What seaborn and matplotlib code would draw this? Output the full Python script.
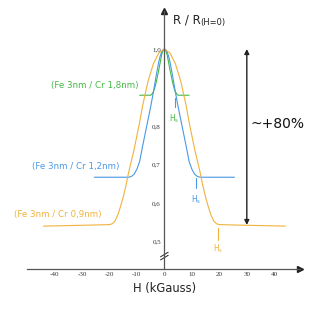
import matplotlib
matplotlib.use("Agg")
import matplotlib.pyplot as plt
import seaborn as sns
import pandas as pd

# ---- data ----
green_H = [0, 0.5, 1, 1.5, 2, 2.5, 3, 3.5, 4, 4.5, 5, 9]
green_R = [1.0, 0.996, 0.985, 0.966, 0.947, 0.93, 0.913, 0.899, 0.889, 0.883, 0.88, 0.88]

blue_H = [0, 0.5, 1, 1.5, 2, 3, 4, 5, 6, 7, 8, 9, 10, 11, 12, 13, 25.5]
blue_R = [1.0, 0.998, 0.992, 0.982, 0.968, 0.93, 0.888, 0.85, 0.815, 0.78, 0.745, 0.708,
          0.688, 0.675, 0.669, 0.667, 0.667]

orange_H = [0, 2, 4, 6, 8, 9, 10, 11, 12, 13, 14, 15, 16, 17, 18, 19, 20, 25, 44]
orange_R = [1.0, 0.99, 0.962, 0.915, 0.85, 0.81, 0.775, 0.74, 0.71, 0.68, 0.645, 0.615,
            0.59, 0.568, 0.553, 0.546, 0.544, 0.543, 0.540]

series_names = ["(Fe 3nm / Cr 1,8nm)", "(Fe 3nm / Cr 1,2nm)", "(Fe 3nm / Cr 0,9nm)"]
series_colors = ["#46b946", "#4a98e4", "#f0b23c"]
hs_values = [3.7, 11.4, 19.4]

x_ticks = [-40, -30, -20, -10, 0, 10, 20, 30, 40]
x_labels = ["-40", "-30", "-20", "-10", "0", "10", "20", "30", "40"]
y_ticks = [0.5, 0.6, 0.7, 0.8, 0.9, 1.0]
y_labels = ["0,5", "0,6", "0,7", "0,8", "", "1,0"]


def mirror(h, r):
    hh = [-v for v in h[::-1][:-1]] + list(h)
    rr = list(r[::-1][:-1]) + list(r)
    return hh, rr


rows = []
for name, (h, r) in zip(series_names, [(green_H, green_R), (blue_H, blue_R), (orange_H, orange_R)]):
    hh, rr = mirror(h, r)
    for a, b in zip(hh, rr):
        rows.append({"H": a, "R": b, "series": name})
df = pd.DataFrame(rows)

sns.set_style("white")
plt.rcParams["font.family"] = ["DejaVu Sans"]

fig = plt.figure(figsize=(3.3, 3.3), dpi=100)
ax = fig.add_axes([0.0818, 0.1848, 0.8285, 0.7818])

axis_col = "#555555"
sns.lineplot(data=df, x="H", y="R", hue="series", hue_order=series_names,
             palette=dict(zip(series_names, series_colors)), estimator=None,
             legend=False, lw=0.8, ax=ax)

ax.set_xlim(-50, 49.5)
ax.set_ylim(0.4286, 1.0987)
ax.set_xlabel("")
ax.set_ylabel("")

for s in ["top", "right"]:
    ax.spines[s].set_visible(False)
ax.spines["left"].set_position(("data", 0))
for s in ["left", "bottom"]:
    ax.spines[s].set_color(axis_col)
    ax.spines[s].set_linewidth(0.9)

ax.set_xticks(x_ticks, labels=x_labels)
ax.set_yticks(y_ticks, labels=y_labels)
ax.tick_params(axis="both", direction="in", length=3.6, width=0.8, color=axis_col,
               labelsize=5, labelcolor="#333333")
ax.tick_params(axis="x", pad=2.5)
ax.tick_params(axis="y", pad=2.5)
for lab in ax.get_xticklabels() + ax.get_yticklabels():
    lab.set_family("Liberation Serif")

# arrowheads on axes
ax.plot(1, 0, ">", color="#222222", ms=4, transform=ax.transAxes, clip_on=False)
ax.plot(0, 1, "^", color="#222222", ms=4, transform=ax.get_xaxis_transform(), clip_on=False)

# axis break mark
for dy in (-0.004, 0.004):
    ax.plot([-1.4, 1.4], [0.4623 + dy - 0.006, 0.4623 + dy + 0.006], color="#222222",
            lw=0.7, clip_on=False)

# Hs markers
hs_spans = [(0.872, 0.850, 0.836), (0.665, 0.639, 0.625), (0.535, 0.504, 0.497)]
for hs, col, (y0, y1, yl) in zip(hs_values, series_colors, hs_spans):
    ax.plot([hs, hs], [y0, y1], color=col, lw=0.8)
    ax.text(hs, yl, r"$\mathregular{H_s}$", color=col, fontsize=5.5, ha="center", va="top")

# series labels
label_pos = [(-25.2, 0.9057), (-32.4, 0.696), (-38.7, 0.5706)]
for name, col, (lx, ly) in zip(series_names, series_colors, label_pos):
    ax.text(lx, ly, name, color=col, fontsize=6.3, ha="center", va="center")

# +80% arrow
ax.annotate("", xy=(30, 1.0), xytext=(30, 0.543),
            arrowprops=dict(arrowstyle="<|-|>", color="#222222", lw=1.0,
                            mutation_scale=7, shrinkA=0, shrinkB=0))
ax.text(31.4, 0.8065, "~+80%", fontsize=10, ha="left", va="center", color="#111111")

# axis titles
ax.text(3.05, 1.065, "R / R", fontsize=8.5, ha="left", va="baseline", color="#222222",
        clip_on=False)
ax.text(13.1, 1.063, "(H=0)", fontsize=6, ha="left", va="baseline", color="#222222",
        clip_on=False)
ax.text(0.2, 0.3784, "H (kGauss)", fontsize=8.3, ha="center", va="center", color="#222222",
        clip_on=False)

fig.savefig("out.png", dpi=100, facecolor="white")
